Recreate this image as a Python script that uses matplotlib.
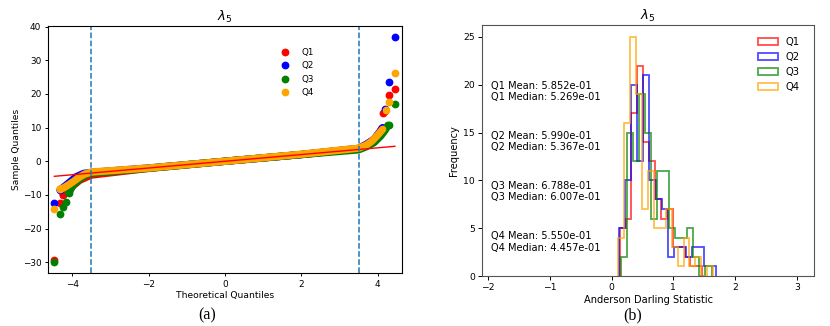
import numpy as np
import matplotlib
matplotlib.use("Agg")
import matplotlib.pyplot as plt

# ---------------- data: QQ plot (left) ----------------
series = ["Q1", "Q2", "Q3", "Q4"]
colors = ["red", "blue", "green", "orange"]

# dense central band of each series (theoretical, sample quantile)
q1_band_x = [-4.24, -4.1, -3.95, -3.8, -3.5, -2.0, 0.0, 2.0, 3.5, 3.7, 3.9, 4.05, 4.11]
q1_band_y = [-10.0, -8.5, -7.0, -5.6, -4.1, -2.1, 0.0, 2.0, 3.8, 5.0, 6.5, 8.5, 9.8]
q2_band_x = [-4.32, -4.1, -3.9, -3.7, -3.5, -2.0, 0.0, 2.0, 3.5, 3.7, 3.9, 4.05, 4.13]
q2_band_y = [-8.5, -6.5, -4.6, -3.6, -3.3, -2.0, 0.0, 2.0, 3.8, 5.0, 6.5, 8.7, 10.0]
q3_band_x = [-4.1, -3.97, -3.8, -3.62, -3.5, -2.0, 0.0, 2.0, 3.5, 3.7, 3.9, 4.08, 4.2, 4.27]
q3_band_y = [-9.5, -7.0, -5.3, -3.9, -3.6, -2.1, 0.0, 2.0, 3.4, 4.3, 5.5, 7.5, 9.3, 10.7]
q4_band_x = [-4.32, -4.24, -4.1, -3.97, -3.8, -3.67, -3.5, -2.0, 0.0, 2.0, 3.5, 3.7, 3.85, 4.0, 4.13]
q4_band_y = [-8.2, -8.0, -7.0, -6.0, -4.6, -3.8, -3.2, -2.0, 0.0, 2.1, 3.9, 4.8, 6.0, 7.8, 9.5]

# isolated extreme points
q1_out_x = [-4.47, -4.32, -4.24, 4.15, 4.19, 4.30, 4.45]
q1_out_y = [-29.3, -12.5, -10.0, 14.3, 14.8, 19.7, 21.5]
q2_out_x = [-4.47, -4.32, 4.19, 4.30, 4.45]
q2_out_y = [-12.5, -8.5, 15.4, 23.6, 37.0]
q3_out_x = [-4.47, -4.32, -4.24, -4.17, -4.1, 4.30, 4.45]
q3_out_y = [-30.0, -15.6, -13.7, -12.1, -9.5, 10.8, 17.1]
q4_out_x = [-4.47, -4.32, 4.21, 4.30, 4.45]
q4_out_y = [-14.3, -8.2, 15.2, 17.5, 26.2]

ref_line_x = [-4.47, 4.45]
ref_line_y = [-4.47, 4.45]
vlines_x = [-3.5, 3.5]

# ---------------- data: histograms (right) ----------------
q1_range = (0.13, 1.47)
q1_counts = [5, 6, 17, 22, 14, 12, 8, 6, 7, 3, 3, 2, 1, 1]
q2_range = (0.12, 1.70)
q2_counts = [5, 10, 20, 12, 21, 10, 8, 7, 2, 3, 3, 2, 3, 3, 1, 1]
q3_range = (0.146, 1.62)
q3_counts = [2, 15, 12, 19, 15, 6, 11, 11, 5, 4, 4, 5, 2, 0, 1]
q4_range = (0.11, 1.646)
q4_counts = [4, 16, 25, 19, 7, 11, 5, 5, 7, 3, 1, 4, 1, 2, 0, 1]

stat_means = ["5.852e-01", "5.990e-01", "6.788e-01", "5.550e-01"]
stat_medians = ["5.269e-01", "5.367e-01", "6.007e-01", "4.457e-01"]
stat_text_y = [19.3, 14.05, 8.8, 3.55]

# ---------------- figure ----------------
W, H = 830, 326
fig = plt.figure(figsize=(W / 100, H / 100), dpi=100)

def rect(l, t, r, b):
    return [l / W, (H - b) / H, (r - l) / W, (b - t) / H]

ax1 = fig.add_axes(rect(47.7, 25.7, 402, 273.3))
ax2 = fig.add_axes(rect(482, 24.5, 814, 276))

# ----- left QQ plot -----
bands = [(q1_band_x, q1_band_y), (q2_band_x, q2_band_y),
         (q3_band_x, q3_band_y), (q4_band_x, q4_band_y)]
outs = [(q1_out_x, q1_out_y), (q2_out_x, q2_out_y),
        (q3_out_x, q3_out_y), (q4_out_x, q4_out_y)]
for name, col, (bx, by), (ox, oy) in zip(series, colors, bands, outs):
    ax1.plot(bx, by, color=col, lw=5.3, solid_capstyle="round",
             solid_joinstyle="round")
    ax1.plot(ox, oy, "o", color=col, ms=4.6, label=name, linestyle="none")
ax1.plot(ref_line_x, ref_line_y, color="red", lw=1.0)
for vx in vlines_x:
    ax1.axvline(vx, color="#1f77b4", ls="--", lw=1.1)

ax1.set_xlim(-4.645, 4.637)
ax1.set_ylim(-33.3, 40.3)
ax1.set_xticks([-4, -2, 0, 2, 4])
ax1.set_yticks([-30, -20, -10, 0, 10, 20, 30, 40])
ax1.tick_params(labelsize=6.4, length=2.4, pad=2.2, width=0.7)
ax1.set_xlabel("Theoretical Quantiles", fontsize=6.6, labelpad=1.5)
ax1.set_ylabel("Sample Quantiles", fontsize=6.6, labelpad=1)
ax1.set_title(r"$\lambda_5$", fontsize=9.5, pad=3.2)
ax1.legend(loc="upper left", bbox_to_anchor=(0.624, 0.942), frameon=False,
           fontsize=6.3, numpoints=1, handletextpad=0.8)
for s in ax1.spines.values():
    s.set_linewidth(0.8)

# ----- right histograms -----
ranges = [q1_range, q2_range, q3_range, q4_range]
counts = [q1_counts, q2_counts, q3_counts, q4_counts]
for name, col, rg, ct in zip(series, colors, ranges, counts):
    edges = np.linspace(rg[0], rg[1], len(ct) + 1)
    ax2.hist(edges[:-1], bins=edges, weights=ct, histtype="step",
             color=col, alpha=0.7, lw=1.3, label=name)

for i in range(4):
    ax2.text(-1.95, stat_text_y[i],
             f"{series[i]} Mean: {stat_means[i]}\n{series[i]} Median: {stat_medians[i]}",
             fontsize=7.1, ha="left", va="center", linespacing=1.15)

ax2.set_xlim(-2.10, 3.28)
ax2.set_ylim(0, 26.3)
ax2.set_xticks([-2, -1, 0, 1, 2, 3])
ax2.set_yticks([0, 5, 10, 15, 20, 25])
ax2.tick_params(labelsize=6.7, length=2.6, pad=2.5, width=0.7)
ax2.set_xlabel("Anderson Darling Statistic", fontsize=7.1, labelpad=2)
ax2.set_ylabel("Frequency", fontsize=7.1, labelpad=3)
ax2.set_title(r"$\lambda_5$", fontsize=9.5, pad=3.2)
ax2.legend(loc="upper left", bbox_to_anchor=(0.803, 0.985), frameon=False,
           fontsize=7.2, handletextpad=0.8)
for s in ax2.spines.values():
    s.set_linewidth(0.8)
    s.set_color("#555555")

fig.text(206.7 / W, 1 - 315 / H, "(a)", family="Liberation Serif",
         fontsize=11.5, ha="center", va="center")
fig.text(632.3 / W, 1 - 315 / H, "(b)", family="Liberation Serif",
         fontsize=11.5, ha="center", va="center")

fig.savefig("out.png", dpi=100)
